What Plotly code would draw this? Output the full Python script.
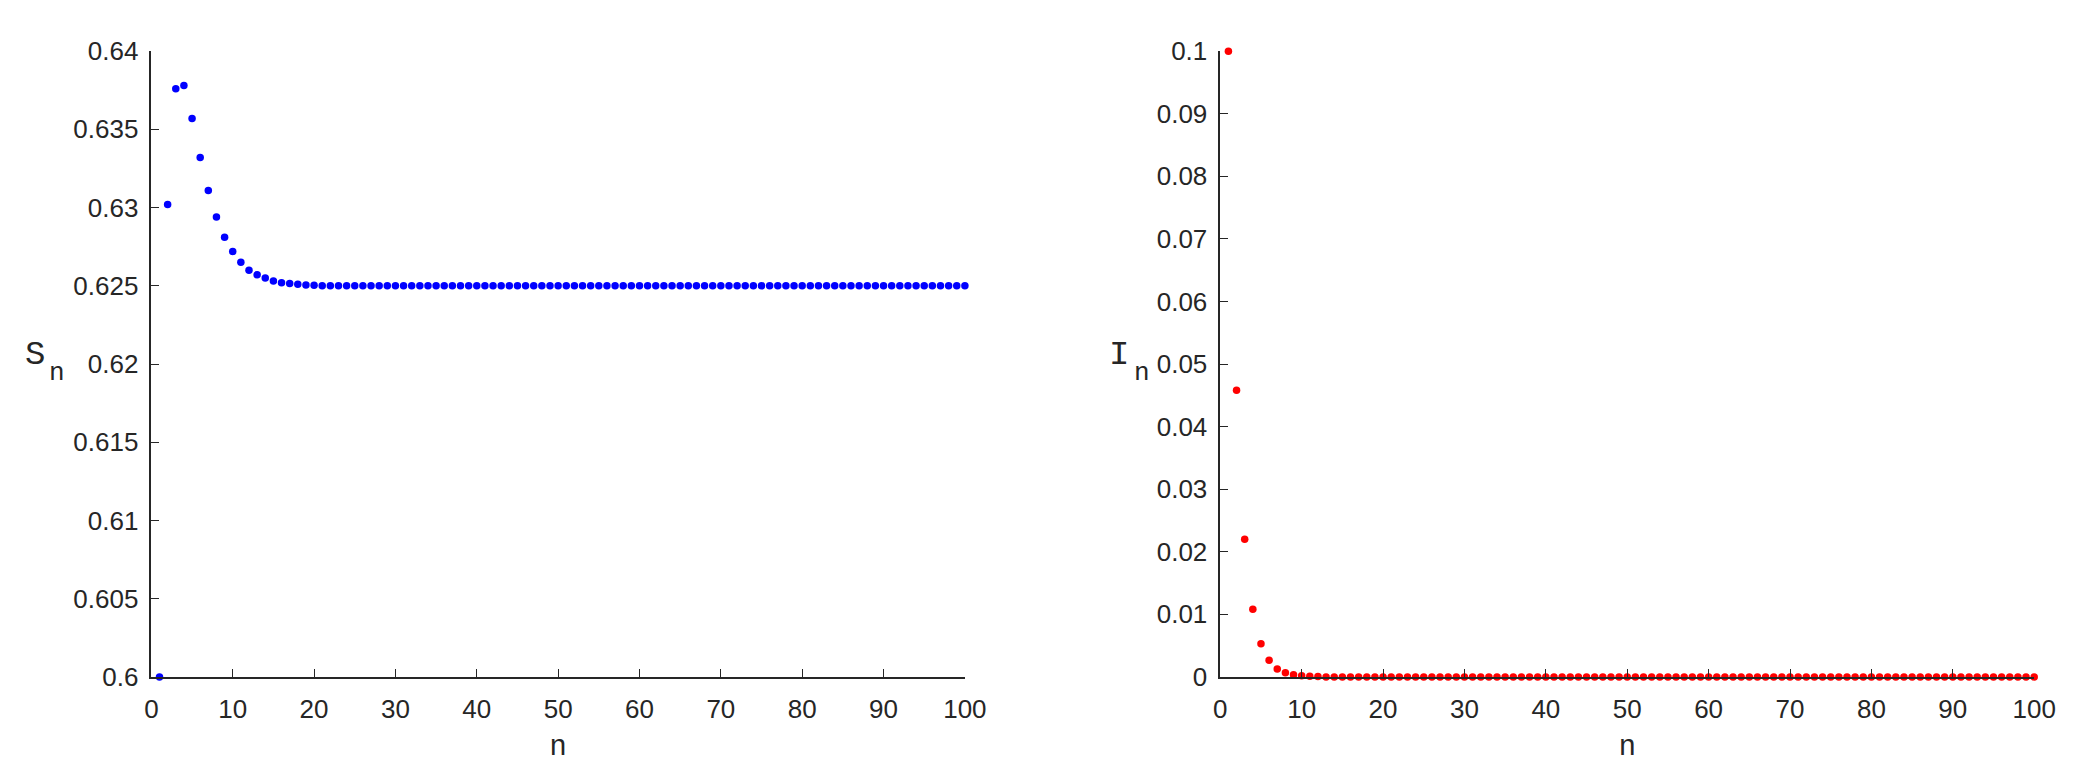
import plotly.graph_objects as go

n = list(range(1, 101))

# S_n values (settles at 0.625)
s_head = [0.6, 0.6302, 0.6376, 0.6378, 0.6357, 0.6332, 0.6311, 0.6294, 0.6281, 0.6272,
          0.6265, 0.6260, 0.6257, 0.6255, 0.6253, 0.6252, 0.62515, 0.6251, 0.62505, 0.62503]
s_tail = [0.625] * 80
S = s_head + s_tail

# I_n values (decays to 0)
i_head = [0.1, 0.0458, 0.0220, 0.0108, 0.0053, 0.00266, 0.00128, 0.00066, 0.00035, 0.0002,
          0.0001, 0.00005]
i_tail = [0.0] * 88
I = i_head + i_tail

x_ticks = [0, 10, 20, 30, 40, 50, 60, 70, 80, 90, 100]
s_ticks = [0.6, 0.605, 0.61, 0.615, 0.62, 0.625, 0.63, 0.635, 0.64]
s_labels = ["0.6", "0.605", "0.61", "0.615", "0.62", "0.625", "0.63", "0.635", "0.64"]
i_ticks = [0, 0.01, 0.02, 0.03, 0.04, 0.05, 0.06, 0.07, 0.08, 0.09, 0.1]
i_labels = ["0", "0.01", "0.02", "0.03", "0.04", "0.05", "0.06", "0.07", "0.08", "0.09", "0.1"]

W, H = 2082, 773
axcol = "#262626"
tickfont = dict(family="Liberation Sans", size=26, color=axcol)

fig = go.Figure()
fig.add_trace(go.Scatter(x=n, y=S, mode="markers", cliponaxis=False,
                         marker=dict(color="#0000ff", size=7.5), xaxis="x", yaxis="y"))
fig.add_trace(go.Scatter(x=n, y=I, mode="markers", cliponaxis=False,
                         marker=dict(color="#ff0000", size=7.5), xaxis="x2", yaxis="y2"))

ybot = 1 - 680.3 / H
ytop = 1 - 29.3 / H

common_x = dict(range=[0, 100], tickvals=x_ticks, showgrid=False, zeroline=False,
                showline=True, linecolor=axcol, linewidth=1.5, ticks="inside",
                ticklen=8, tickcolor=axcol, tickfont=tickfont, ticklabelstandoff=8,
                title=dict(text="n", font=dict(family="Liberation Sans", size=29, color=axcol),
                           standoff=12))
common_y = dict(showgrid=False, zeroline=False, showline=True, linecolor=axcol,
                linewidth=1.5, ticks="inside", ticklen=8, tickcolor=axcol,
                tickfont=tickfont, ticklabelstandoff=6)

fig.update_layout(
    width=W, height=H,
    margin=dict(l=0, r=0, t=0, b=0),
    paper_bgcolor="white", plot_bgcolor="white",
    showlegend=False,
    xaxis=dict(domain=[138.3 / W, 963.3 / W], anchor="y", **common_x),
    yaxis=dict(domain=[ybot, ytop], anchor="x", range=[0.6, 0.64],
               tickvals=s_ticks, ticktext=s_labels, **common_y),
    xaxis2=dict(domain=[1222.3 / W, 2047.7 / W], anchor="y2", **common_x),
    yaxis2=dict(domain=[ybot, ytop], anchor="x2", range=[0, 0.1],
                tickvals=i_ticks, ticktext=i_labels, **common_y),
)

# y labels: horizontal letter with a lowered "n" beside it
big = dict(family="Liberation Mono", size=34, color=axcol)
small = dict(family="Liberation Mono", size=26, color=axcol)
for letter, xl in (("S", 20), ("I", 1120)):
    fig.add_annotation(text=letter, x=xl / W, y=1 - 345 / H, xref="paper", yref="paper",
                       xanchor="center", yanchor="middle", showarrow=False, font=big)
    fig.add_annotation(text="n", x=(xl + 23) / W, y=1 - 364 / H, xref="paper", yref="paper",
                       xanchor="center", yanchor="middle", showarrow=False, font=small)

fig.write_html("out.html")
